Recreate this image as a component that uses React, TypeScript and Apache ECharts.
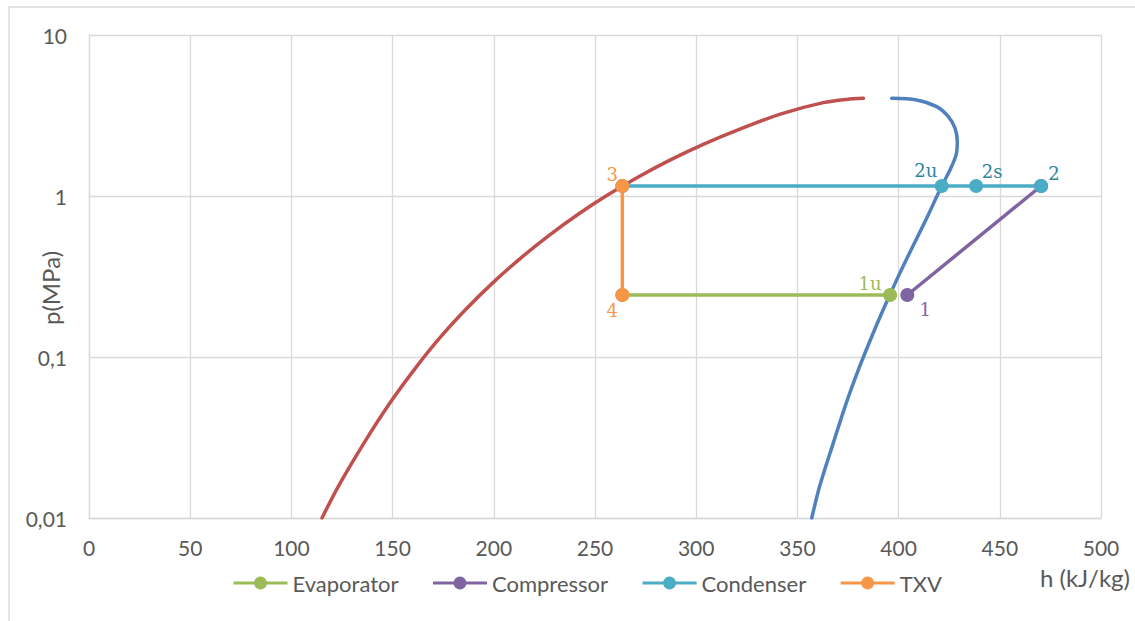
import React, { useEffect, useRef } from "react";
import * as echarts from "echarts";

// Saturated liquid line (h kJ/kg, p MPa)
const liquidH = [115.1, 123.4, 136.0, 148.4, 161.0, 173.6, 186.7, 200.0, 213.6, 227.5, 241.7, 256.4, 271.6, 287.5, 304.3, 322.5, 342.0, 362.8, 374.3, 382.6];
const liquidP = [0.01, 0.0159, 0.0294, 0.0512, 0.0844, 0.1327, 0.2006, 0.2928, 0.4146, 0.5717, 0.7702, 1.0166, 1.3179, 1.6818, 2.1168, 2.6332, 3.24, 3.80, 3.98, 4.04];

// Saturated vapour line
const vaporH = [396.6, 408.9, 418.8, 424.6, 427.9, 429.0, 428.4, 425.4, 421.3, 414.8, 409.8, 404.3, 398.6, 392.7, 386.6, 380.3, 374.0, 367.8, 361.1, 357.1];
const vaporP = [4.04, 3.95, 3.59, 3.11, 2.63, 2.17, 1.80, 1.45, 1.154, 0.7702, 0.5717, 0.4146, 0.2928, 0.2006, 0.1327, 0.0844, 0.0512, 0.0294, 0.0159, 0.01];

// Cycle state points
const pointNames = ["1u", "1", "2", "2s", "2u", "3", "4"];
const pointH = [395.8, 404.3, 470.4, 438.3, 421.3, 263.5, 263.5];
const pointP = [0.2427, 0.2427, 1.154, 1.154, 1.154, 1.154, 0.2427];

// Series (paths through the state points) and legend
const seriesNames = ["Evaporator", "Compressor", "Condenser", "TXV"];
const evaporatorPath = ["4", "1u"];
const compressorPath = ["1", "2"];
const condenserPath = ["2", "2s", "2u", "3"];
const txvPath = ["3", "4"];
const evaporatorLabels = ["1u"];
const compressorLabels = ["1"];
const condenserLabels = ["2", "2s", "2u"];
const txvLabels = ["3", "4"];

const xTicks = { min: 0, max: 500, interval: 50 };
const yRange = { min: 0.01, max: 10 };

const labelOffsets: Record<string, number[]> = {
  "1u": [-20, -12],
  "1": [18, 14],
  "2": [13, -12],
  "2s": [16, -14],
  "2u": [-16, -15],
  "3": [-10, -11],
  "4": [-10, 15],
};

const SANS = "Lato";
const SERIF = "DejaVu Serif";
const GRID = "#D9D9D9";
const TEXT = "#595959";

function pathData(path: string[], labels: string[], labelColor: string) {
  return path.map((n) => {
    const i = pointNames.indexOf(n);
    const show = labels.indexOf(n) >= 0;
    return {
      value: [pointH[i], pointP[i]],
      label: show
        ? {
            show: true,
            formatter: n,
            position: "inside",
            offset: labelOffsets[n],
            color: labelColor,
            fontFamily: SERIF,
            fontSize: 18,
          }
        : { show: false },
    };
  });
}

export default function App() {
  const ref = useRef<HTMLDivElement>(null);
  useEffect(() => {
    if (!ref.current) return;
    const chart = echarts.init(ref.current, undefined, { renderer: "svg" });
    const cycleSeries = (name: string, color: string, data: any[]) => ({
      name,
      type: "line",
      data,
      symbol: "circle",
      symbolSize: 14,
      lineStyle: { color, width: 3.5 },
      itemStyle: { color },
      emphasis: { disabled: true },
    });
    chart.setOption({
      animation: false,
      grid: { left: 89, right: 34, top: 35, bottom: 103 },
      legend: {
        data: seriesNames,
        left: 232,
        top: 572,
        padding: 0,
        itemWidth: 54,
        itemHeight: 16,
        itemGap: 33,
        lineStyle: { width: 3 },
        textStyle: { color: TEXT, fontFamily: SANS, fontSize: 22 },
      },
      xAxis: {
        type: "value",
        min: xTicks.min,
        max: xTicks.max,
        interval: xTicks.interval,
        axisLine: { show: true, lineStyle: { color: GRID, width: 1.3 } },
        axisTick: { show: false },
        splitLine: { show: true, lineStyle: { color: GRID, width: 1.3 } },
        axisLabel: { color: TEXT, fontFamily: SANS, fontSize: 21, margin: 19 },
      },
      yAxis: {
        type: "log",
        logBase: 10,
        min: yRange.min,
        max: yRange.max,
        axisLine: { show: true, lineStyle: { color: GRID, width: 1.3 } },
        axisTick: { show: false },
        splitLine: { show: true, lineStyle: { color: GRID, width: 1.3 } },
        minorSplitLine: { show: false },
        axisLabel: {
          color: TEXT,
          fontFamily: SANS,
          fontSize: 21,
          margin: 22,
          formatter: (v: number) => String(Number(v.toPrecision(6))).replace(".", ","),
        },
      },
      graphic: [
        {
          type: "rect",
          silent: true,
          shape: { x: 9, y: 7, width: 1300, height: 800 },
          style: { fill: "none", stroke: GRID, lineWidth: 1.3 },
        },
        {
          type: "text",
          x: 50,
          y: 288,
          rotation: Math.PI / 2,
          style: { text: "p(MPa)", fill: TEXT, font: `24px ${SANS}`, align: "center", verticalAlign: "middle" },
        },
        {
          type: "text",
          x: 1130,
          y: 577,
          style: { text: "h (kJ/kg)", fill: TEXT, font: `24px ${SANS}`, align: "right", verticalAlign: "middle" },
        },
      ],
      series: [
        {
          name: "Saturated liquid",
          type: "line",
          data: liquidH.map((h, i) => [h, liquidP[i]]),
          smooth: 0.3,
          showSymbol: false,
          symbol: "none",
          lineStyle: { color: "#C0504D", width: 3.5, cap: "round" },
          emphasis: { disabled: true },
        },
        {
          name: "Saturated vapour",
          type: "line",
          data: vaporH.map((h, i) => [h, vaporP[i]]),
          smooth: 0.3,
          showSymbol: false,
          symbol: "none",
          lineStyle: { color: "#4F81BD", width: 3.5, cap: "round" },
          emphasis: { disabled: true },
        },
        cycleSeries("Evaporator", "#9BBB59", pathData(evaporatorPath, evaporatorLabels, "#9BBB59")),
        cycleSeries("Compressor", "#8064A2", pathData(compressorPath, compressorLabels, "#8064A2")),
        cycleSeries("Condenser", "#4BACC6", pathData(condenserPath, condenserLabels, "#31849B")),
        cycleSeries("TXV", "#F79646", pathData(txvPath, txvLabels, "#F79646")),
      ],
    });
    return () => chart.dispose();
  }, []);
  return (
    <div
      ref={ref}
      style={{ position: "fixed", left: 0, top: 0, width: 1135, height: 621, background: "#fff" }}
    />
  );
}
